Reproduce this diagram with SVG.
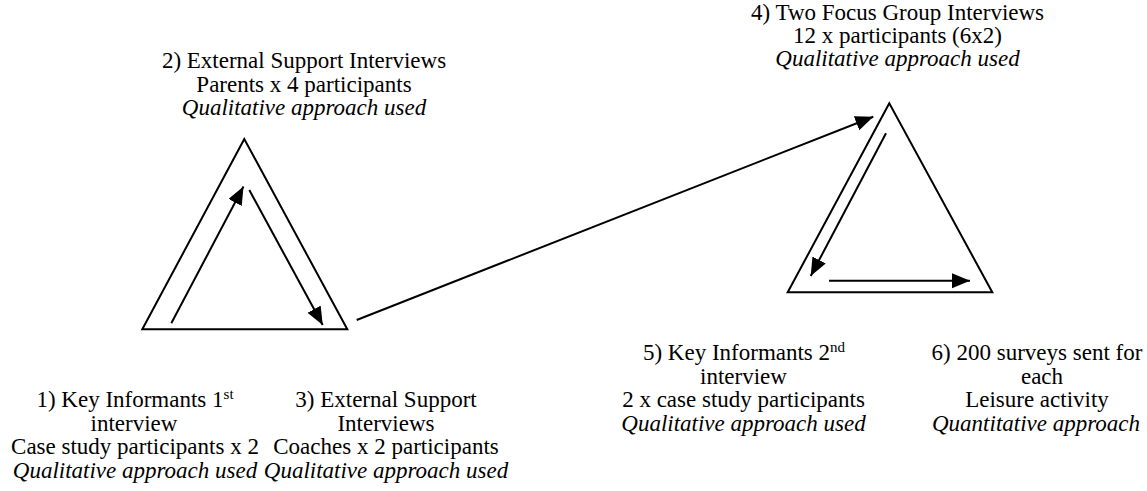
<svg xmlns="http://www.w3.org/2000/svg" width="1147" height="491" viewBox="0 0 1147 491">
<style>
.t text{font-size:23px;fill:#000;text-anchor:middle}
.it{font-style:italic}
.sup{font-size:15px}
.ln{fill:none;stroke:#000;stroke-width:2}
.arr{marker-end:url(#ah)}
</style>
<defs>
<marker id="ah" markerUnits="userSpaceOnUse" markerWidth="20" markerHeight="16" refX="18" refY="7.5" orient="auto">
<path d="M0,0 L18,7.5 L0,15 z" fill="#000"/>
</marker>
</defs>
<g id="triangle1">
<polygon class="ln" points="244.3,139 142.3,329.3 347.3,329.3"/>
</g>
<g id="triangle2">
<polygon class="ln" points="889.3,103.3 787.7,292.3 992.3,292.3"/>
</g>
<g id="connectors">
<line class="ln arr" x1="171.3" y1="323.3" x2="243.5" y2="186.5"/>
<line class="ln arr" x1="249.3" y1="190" x2="322.7" y2="325"/>
<line class="ln arr" x1="356.7" y1="320" x2="873.3" y2="116.7"/>
<line class="ln arr" x1="886" y1="133.3" x2="810.7" y2="276"/>
<line class="ln arr" x1="829" y1="280.7" x2="970" y2="280.7"/>
</g>
<g font-family="Liberation Serif" class="t">
<g id="node1">
<text x="135" y="407">1) Key Informants 1<tspan class="sup" dy="-8">st</tspan></text>
<text x="134" y="430.5">interview</text>
<text x="135" y="454">Case study participants x 2</text>
<text x="135" y="477.5" class="it">Qualitative approach used</text>
</g>
<g id="node2">
<text x="304" y="68">2) External Support Interviews</text>
<text x="304" y="91.5">Parents x 4 participants</text>
<text x="304" y="115" class="it">Qualitative approach used</text>
</g>
<g id="node3">
<text x="386" y="407">3) External Support</text>
<text x="386" y="430.5">Interviews</text>
<text x="386" y="454">Coaches x 2 participants</text>
<text x="386" y="477.5" class="it">Qualitative approach used</text>
</g>
<g id="node4">
<text x="897.5" y="19.5">4) Two Focus Group Interviews</text>
<text x="897.5" y="43">12 x participants (6x2)</text>
<text x="897.5" y="66" class="it">Qualitative approach used</text>
</g>
<g id="node5">
<text x="744" y="360">5) Key Informants 2<tspan class="sup" dy="-8">nd</tspan></text>
<text x="743.5" y="383.5">interview</text>
<text x="743.5" y="407">2 x case study participants</text>
<text x="743.5" y="430.5" class="it">Qualitative approach used</text>
</g>
<g id="node6">
<text x="1037" y="360">6) 200 surveys sent for</text>
<text x="1042" y="383.5">each</text>
<text x="1037" y="407">Leisure activity</text>
<text x="932" y="430.5" class="it" style="text-anchor:start">Quantitative approach</text>
</g>
</g>
</svg>
